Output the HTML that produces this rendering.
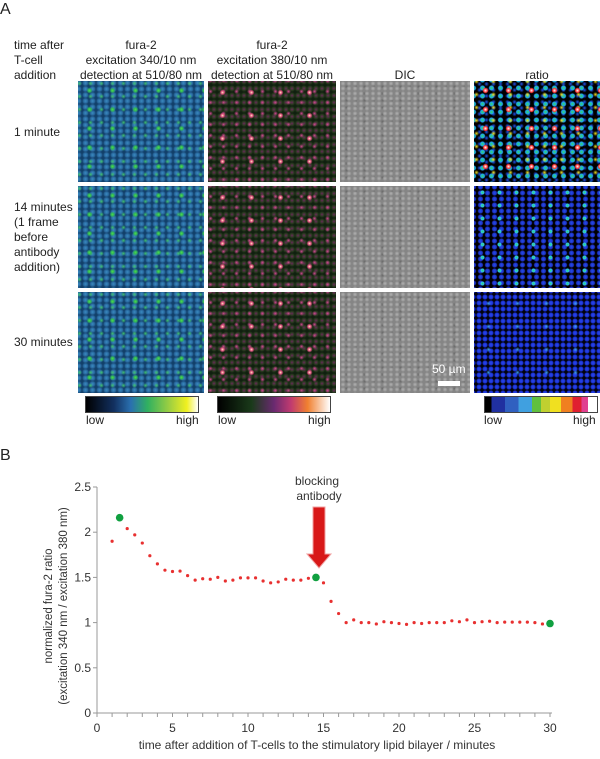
<!DOCTYPE html>
<html><head><meta charset="utf-8">
<style>
body{margin:0;width:600px;height:759px;background:#fff;font-family:"Liberation Sans",sans-serif;color:#222;position:relative;overflow:hidden}
.t{position:absolute;font-size:12px;line-height:15px}
.c{text-align:center}
.p{position:absolute;width:auto}
.f1{background:radial-gradient(circle,#50e040 0,#30b060 1.5px,transparent 3px) 0 0/23px 19px,radial-gradient(circle,#40c070 0,transparent 2.5px) 7px 9px/11px 13px,radial-gradient(circle,#3a8cc0 0,#2a6aa0 2px,transparent 3.5px) 4px 5px/7px 6px,#12406a}
.f2{background:radial-gradient(circle,#fff0c0 0,#e05080 1.5px,transparent 3px) 0 0/29px 23px,radial-gradient(circle,#d04a90 0,transparent 2.5px) 9px 5px/13px 11px,radial-gradient(circle,#6a2a5a 0,#2a3a20 2px,transparent 3.5px) 3px 4px/6px 7px,#10200f}
.f3{background:radial-gradient(circle,#b0b0b0 0,#9a9a9a 1.5px,transparent 2.5px) 0 0/6px 5px,radial-gradient(circle,#6a6a6a 0,transparent 2px) 2px 2px/9px 7px,#858585}
.r1{background:radial-gradient(circle,#ffffff 0,#ff3030 2px,transparent 3px) 0 0/23px 19px,radial-gradient(circle,#f0e020 0,transparent 2.5px) 11px 7px/17px 13px,radial-gradient(circle,#30e060 0,#20a0f0 2px,transparent 3px) 4px 3px/9px 8px,radial-gradient(circle,#2050f0 0,transparent 2.5px) 2px 6px/7px 6px,#000}
.r2{background:radial-gradient(circle,#30e060 0,#30c0f0 1.5px,transparent 2.5px) 0 0/17px 13px,radial-gradient(circle,#2050f0 0,#2030c0 2px,transparent 3px) 3px 4px/7px 6px,#000}
.r3{background:radial-gradient(circle,#40a0f0 0,transparent 2.5px) 0 0/29px 23px,radial-gradient(circle,#2a4af0 0,#1a30d0 2px,transparent 3px) 2px 2px/6px 6px,#02020a}
</style></head><body>
<div class="t" style="left:0;top:2px;font-size:16px">A</div>
<div class="t" style="left:14px;top:38px">time after<br>T-cell<br>addition</div>
<div class="t c" style="left:76px;top:38px;width:130px">fura-2<br>excitation 340/10 nm<br>detection at 510/80 nm</div>
<div class="t c" style="left:206px;top:38px;width:132px">fura-2<br>excitation 380/10 nm<br>detection at 510/80 nm</div>
<div class="t c" style="left:340px;top:68px;width:130px">DIC</div>
<div class="t c" style="left:474px;top:68px;width:126px">ratio</div>
<div class="t" style="left:14px;top:125px">1 minute</div>
<div class="t" style="left:14px;top:200px">14 minutes<br>(1 frame<br>before<br>antibody<br>addition)</div>
<div class="t" style="left:14px;top:335px">30 minutes</div>

<div class="p f1" style="left:78px;top:81px;width:126px;height:101px"></div>
<div class="p f2" style="left:208px;top:81px;width:128px;height:101px"></div>
<div class="p f3" style="left:340px;top:81px;width:130px;height:101px"></div>
<div class="p r1" style="left:474px;top:81px;width:126px;height:101px"></div>
<div class="p f1" style="left:78px;top:186px;width:126px;height:102px"></div>
<div class="p f2" style="left:208px;top:186px;width:128px;height:102px"></div>
<div class="p f3" style="left:340px;top:186px;width:130px;height:102px"></div>
<div class="p r2" style="left:474px;top:186px;width:126px;height:102px"></div>
<div class="p f1" style="left:78px;top:292px;width:126px;height:101px"></div>
<div class="p f2" style="left:208px;top:292px;width:128px;height:101px"></div>
<div class="p f3" style="left:340px;top:292px;width:130px;height:101px"></div>
<div class="p r3" style="left:474px;top:292px;width:126px;height:101px"></div>
<div class="t" style="left:432px;top:362px;color:#fff">50 µm</div>
<div class="p" style="left:438px;top:381px;width:22px;height:5px;background:#fff"></div>

<div class="p" style="left:85px;top:396px;width:112px;height:15px;border:1px solid #444;background:linear-gradient(90deg,#000,#123060 25%,#2a70b0 40%,#30b060 55%,#a0d040 75%,#f0f020 90%,#fff)"></div>
<div class="p" style="left:217px;top:396px;width:112px;height:15px;border:1px solid #444;background:linear-gradient(90deg,#000,#1a3a1a 30%,#6a2a70 50%,#c03a70 65%,#f08030 80%,#fff)"></div>
<div class="p" style="left:484px;top:396px;width:112px;height:15px;border:1px solid #444;background:linear-gradient(90deg,#000 0 6%,#2030a0 6% 18%,#3060c0 18% 30%,#40a0e0 30% 42%,#60c040 42% 50%,#c0d030 50% 58%,#f0e020 58% 68%,#f08020 68% 78%,#e02030 78% 86%,#e04090 86% 92%,#fff 92%)"></div>
<div class="t" style="left:86px;top:413px">low</div>
<div class="t" style="left:176px;top:413px">high</div>
<div class="t" style="left:218px;top:413px">low</div>
<div class="t" style="left:308px;top:413px">high</div>
<div class="t" style="left:484px;top:413px">low</div>
<div class="t" style="left:573px;top:413px">high</div>

<div class="t" style="left:0;top:448px;font-size:16px">B</div>
<svg id="chart" width="600" height="300" style="position:absolute;left:0;top:459px" font-family="Liberation Sans, sans-serif"></svg>
<script>
const times=[1,1.5,2,2.5,3,3.5,4,4.5,5,5.5,6,6.5,7,7.5,8,8.5,9,9.5,10,10.5,11,11.5,12,12.5,13,13.5,14,14.5,15,15.5,16,16.5,17,17.5,18,18.5,19,19.5,20,20.5,21,21.5,22,22.5,23,23.5,24,24.5,25,25.5,26,26.5,27,27.5,28,28.5,29,29.5,30];
const ratios=[1.90,2.16,2.04,1.97,1.88,1.74,1.65,1.58,1.565,1.57,1.52,1.47,1.485,1.48,1.50,1.46,1.47,1.495,1.495,1.495,1.46,1.44,1.45,1.48,1.47,1.47,1.49,1.50,1.44,1.235,1.10,1.00,1.03,1.00,1.00,0.985,1.01,1.00,0.99,0.98,1.00,0.99,1.00,1.00,1.00,1.02,1.01,1.03,1.00,1.01,1.015,1.00,1.005,1.005,1.005,1.005,1.00,0.985,0.99];
const highlighted=[1.5,14.5,30];
const xTicks=[0,5,10,15,20,25,30];
const yTicks=[0,0.5,1,1.5,2,2.5];
const oy=459,X0=97,X1=550,Y0=713-oy,Y1=487-oy;
const sx=v=>X0+(X1-X0)*v/30, sy=v=>Y0+(Y1-Y0)*v/2.5;
const svg=document.getElementById('chart');const NS='http://www.w3.org/2000/svg';
function mk(t,a,p){const e=document.createElementNS(NS,t);for(const k in a)e.setAttribute(k,a[k]);(p||svg).appendChild(e);return e;}
let e;
e=mk('line',{x1:X0,y1:Y0,x2:X1+2,y2:Y0,stroke:'#999'});


e=mk('line',{x1:X0,y1:Y0,x2:X0,y2:Y1,stroke:'#999'});


for(let v=0;v<=30;v+=1){mk('line',{x1:sx(v),y1:Y0,x2:sx(v),y2:Y0+4,stroke:'#999'});}
xTicks.forEach(v=>{e=mk('text',{x:sx(v),y:Y0+19,'text-anchor':'middle','font-size':12,fill:'#333'});e.textContent=v;

});
yTicks.forEach(v=>{mk('line',{x1:X0-4,y1:sy(v),x2:X0,y2:sy(v),stroke:'#999'});e=mk('text',{x:X0-6,y:sy(v)+4,'text-anchor':'end','font-size':12,fill:'#333'});e.textContent=v;

});
e=mk('text',{x:0,y:0,'text-anchor':'middle','font-size':11.5,fill:'#333',transform:`translate(52,${(Y0+Y1)/2+6}) rotate(-90)`});
e.innerHTML='<tspan x="0" dy="0">normalized fura-2 ratio</tspan><tspan x="0" dy="15">(excitation 340 nm / excitation 380 nm)</tspan>';


e=mk('text',{x:317,y:749-oy,'text-anchor':'middle','font-size':12,fill:'#333'});e.textContent='time after addition of T-cells to the stimulatory lipid bilayer / minutes';


times.forEach((t,i)=>{if(highlighted.includes(t))return;e=mk('circle',{cx:sx(t),cy:sy(ratios[i]),r:1.6,fill:'#e83030'});

});
times.forEach((t,i)=>{if(!highlighted.includes(t))return;e=mk('circle',{cx:sx(t),cy:sy(ratios[i]),r:3.8,fill:'#10a040'});

});
e=mk('text',{x:317,y:485-oy,'text-anchor':'middle','font-size':12,fill:'#333'});e.innerHTML='<tspan x="317">blocking</tspan><tspan x="319" dy="15">antibody</tspan>';


e=mk('path',{d:`M313 ${507-oy} h12 v${47} h6 l-12 ${14} l-12 -${14} h6 z`,fill:'#d81818',stroke:'#f0a0a0','stroke-width':1});


</script>
</body></html>
